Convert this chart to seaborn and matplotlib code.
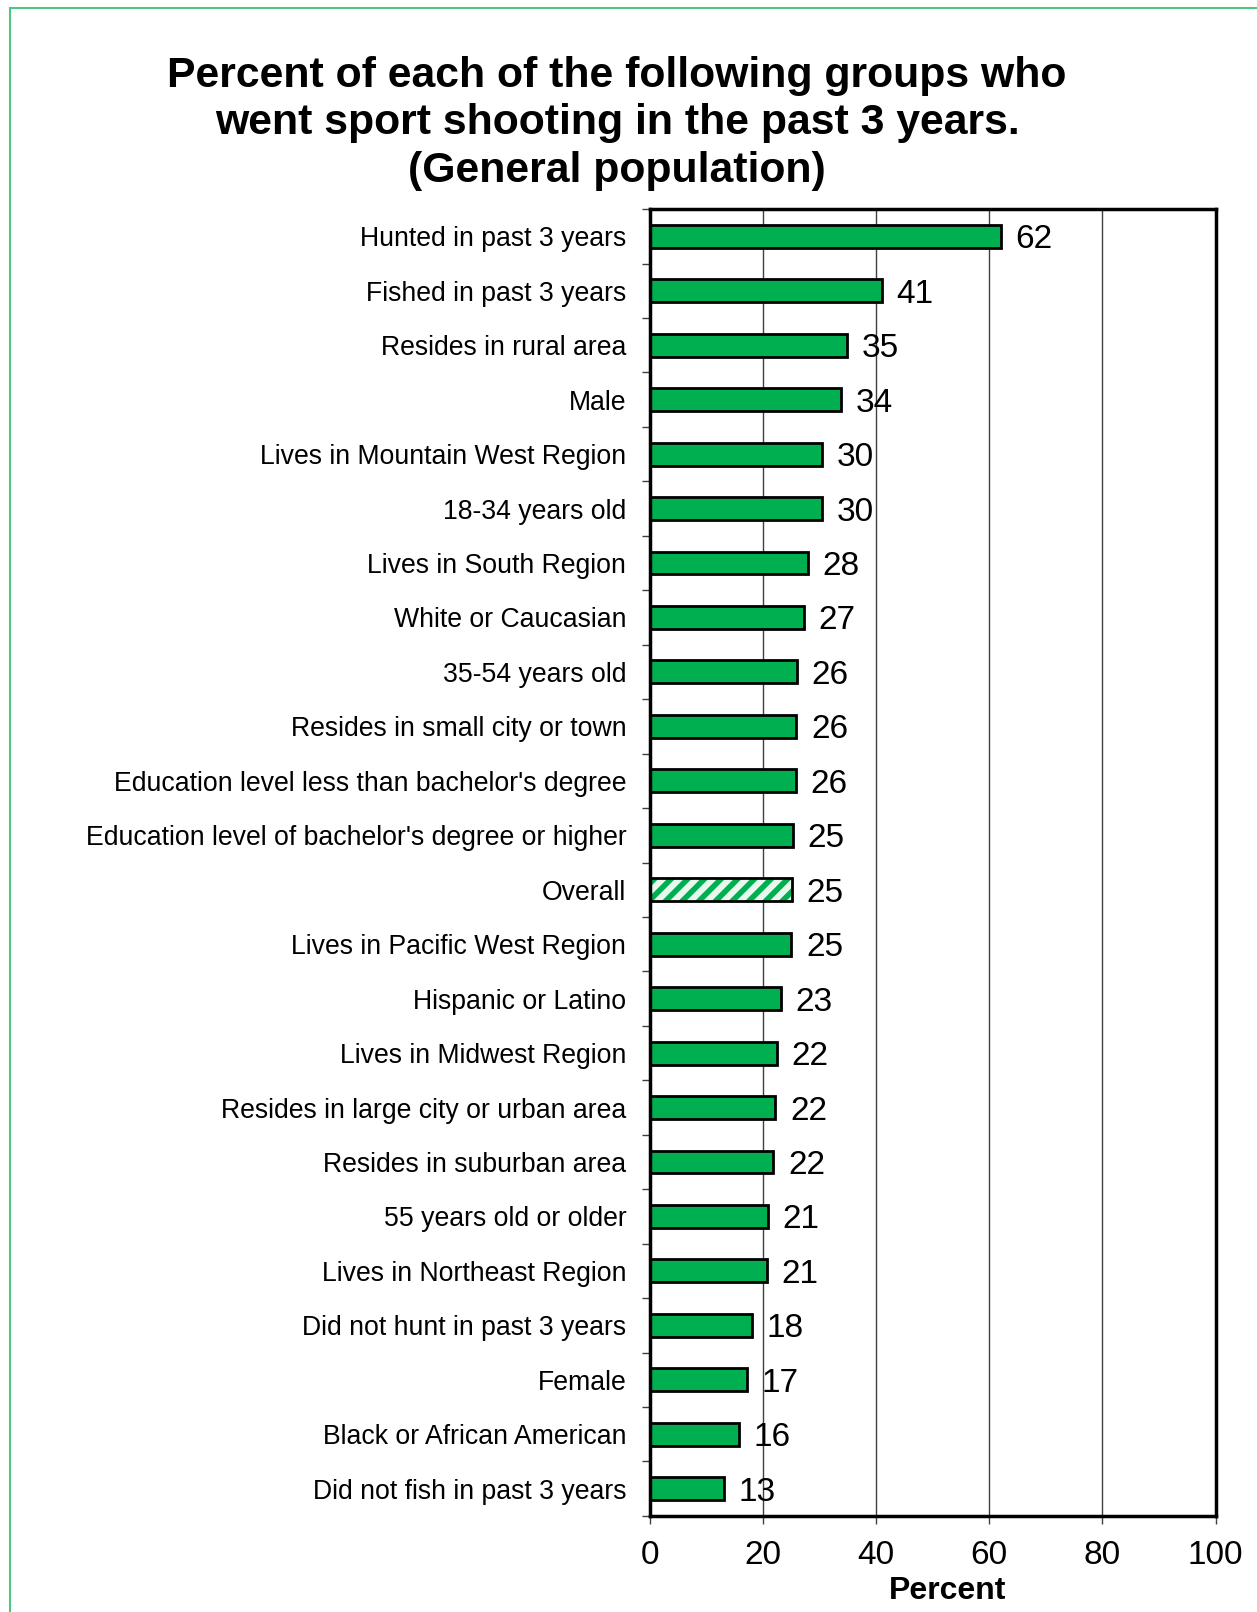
import matplotlib
matplotlib.use('Agg')
import numpy as np
import pandas as pd
import matplotlib.pyplot as plt
import seaborn as sns
from matplotlib.patches import Rectangle
from matplotlib.ticker import FixedLocator

sns.set_style('white')
plt.rcParams['font.family'] = ['Liberation Sans', 'DejaVu Sans']
plt.rcParams['hatch.linewidth'] = 4.0
plt.rcParams['text.color'] = 'black'
plt.rcParams['xtick.color'] = 'black'
plt.rcParams['ytick.color'] = 'black'
plt.rcParams['axes.labelcolor'] = 'black'

groups = ['Hunted in past 3 years', 'Fished in past 3 years', 'Resides in rural area',
          'Male', 'Lives in Mountain West Region', '18-34 years old',
          'Lives in South Region', 'White or Caucasian', '35-54 years old',
          'Resides in small city or town', "Education level less than bachelor's degree",
          "Education level of bachelor's degree or higher", 'Overall',
          'Lives in Pacific West Region', 'Hispanic or Latino', 'Lives in Midwest Region',
          'Resides in large city or urban area', 'Resides in suburban area',
          '55 years old or older', 'Lives in Northeast Region',
          'Did not hunt in past 3 years', 'Female', 'Black or African American',
          'Did not fish in past 3 years']
percent = [62.0, 41.0, 34.8, 33.8, 30.5, 30.4, 27.9, 27.2, 26.0, 25.9, 25.8, 25.3,
           25.1, 25.0, 23.1, 22.4, 22.2, 21.8, 20.9, 20.7, 18.0, 17.2, 15.8, 13.1]
shown = [62, 41, 35, 34, 30, 30, 28, 27, 26, 26, 26, 25, 25, 25, 23, 22, 22, 22,
         21, 21, 18, 17, 16, 13]
xticks = [0, 20, 40, 60, 80, 100]
GREEN = '#00B050'

df = pd.DataFrame({'group': groups, 'percent': percent})

fig = plt.figure(figsize=(12.57, 16.12), dpi=100)
ax = fig.add_axes([0.517, 0.0596, 0.450, 0.8107])

sns.barplot(data=df, y='group', x='percent', orient='h', color=GREEN,
            saturation=1, width=0.42, edgecolor='black', linewidth=2, ax=ax)

# hatched "Overall" bar
ov = groups.index('Overall')
p = ax.patches[ov]
p.set_facecolor('#E8F8EE')
p.set_edgecolor(GREEN)
p.set_hatch('//')
p.set_linewidth(0)
ax.add_patch(Rectangle((p.get_x(), p.get_y()), p.get_width(), p.get_height(),
                       fill=False, edgecolor='black', linewidth=2, zorder=3))

for i, (v, s) in enumerate(zip(percent, shown)):
    ax.text(v + 2.6, i, str(s), va='center_baseline', ha='left', fontsize=24, zorder=4)

ax.set_xlim(0, 100)
ax.set_ylim(len(groups) - 0.5, -0.5)
ax.set_xticks(xticks)
ax.set_xticklabels([str(t) for t in xticks], fontsize=24)
ax.tick_params(axis='x', length=6, width=1, color='#404040', pad=11, bottom=True)
ax.tick_params(axis='y', length=0, pad=17, labelsize=19.2, left=False)
ax.yaxis.set_minor_locator(FixedLocator(np.arange(-0.5, len(groups), 1.0)))
ax.tick_params(axis='y', which='minor', length=6, width=1, color='#404040', left=True)
ax.grid(axis='x', color='#404040', linewidth=1)
ax.set_axisbelow(True)
for sp in ax.spines.values():
    sp.set_visible(True)
    sp.set_color('black')
    sp.set_linewidth(2.5)
ax.set_ylabel('')
ax.set_xlabel('Percent', fontsize=23, fontweight='bold', labelpad=0)
ax.xaxis.set_label_coords(0.527, -0.046)

fig.text(0.491, 0.9235, 'Percent of each of the following groups who\n'
         'went sport shooting in the past 3 years.\n(General population)',
         ha='center', va='center', fontsize=30.8, fontweight='bold', linespacing=1.25)

fig.add_artist(Rectangle((0.008, -0.2), 2, 1.195, transform=fig.transFigure,
                         fill=False, edgecolor='#4CC884', linewidth=1.5))

fig.savefig('out.png', dpi=100)
